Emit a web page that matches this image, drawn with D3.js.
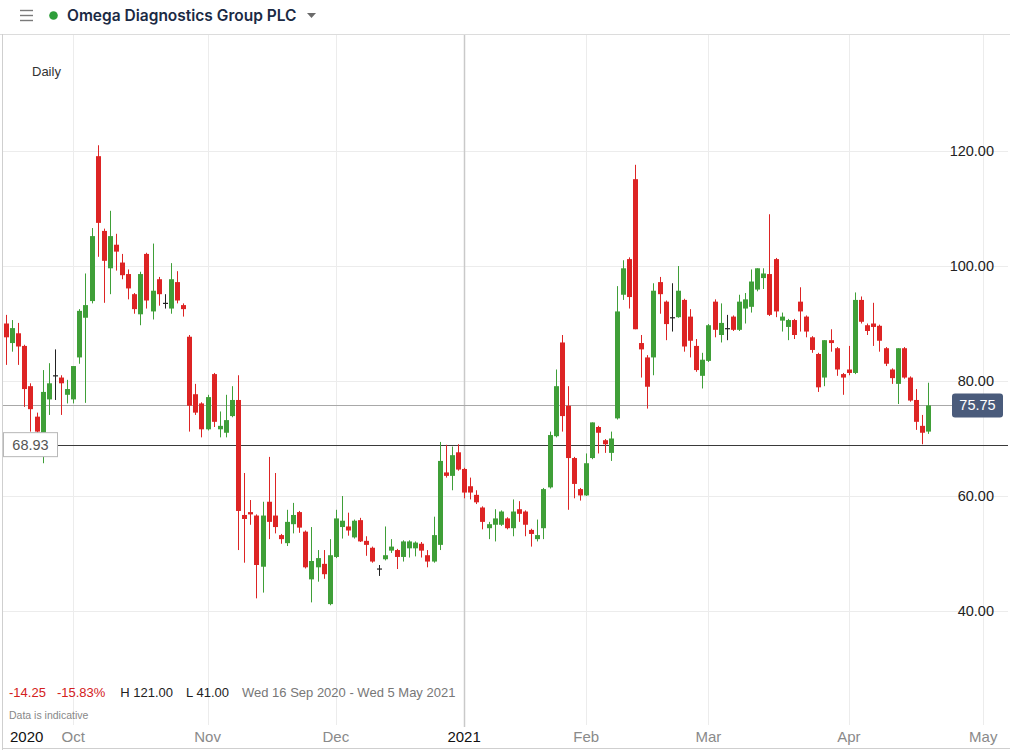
<!DOCTYPE html>
<html>
<head>
<meta charset="utf-8">
<script src="https://cdn.jsdelivr.net/npm/d3@7"></script>
<style>
body { margin: 0; background: #fff; }
svg { display: block; font-family: "Liberation Sans", Arial, sans-serif; }
</style>
</head>
<body>
<svg id="chart" width="1010" height="750"></svg>
<script>
// ---- data ----
var title = "Omega Diagnostics Group PLC";
var firstDay = "2020-09-16";
var lastDay = "2021-05-05";
var holidays = ["2020-12-25", "2020-12-28", "2021-01-01", "2021-04-02", "2021-04-05"];

var opens = [90.0,86.6,88.3,86.1,79.1,73.8,70.9,76.8,81.0,80.6,
  77.6,76.8,84.1,91.0,93.9,119.1,106.1,99.6,103.7,100.6,
  98.6,95.1,91.6,102.1,92.1,97.7,93.6,92.6,97.2,93.2,
  87.7,77.7,76.1,71.6,81.2,71.6,71.0,73.9,76.7,56.7,
  57.2,56.6,47.7,59.0,56.6,53.2,51.8,55.1,57.2,53.8,
  45.5,47.6,48.2,41.2,49.4,54.6,54.7,52.8,55.8,52.2,
  51.0,47.4,49.0,50.5,50.6,49.4,50.9,50.9,51.7,49.7,
  48.6,51.5,64.1,63.5,67.6,64.7,61.7,60.2,58.0,54.4,
  55.0,55.0,56.1,54.4,57.7,57.3,54.1,52.5,54.4,61.5,
  70.4,86.7,75.7,66.6,61.2,60.1,66.6,72.0,69.7,67.5,
  73.5,95.0,101.2,115.1,86.6,84.1,84.1,97.2,93.8,91.1,
  91.1,94.1,91.2,86.1,80.9,83.5,93.8,88.0,89.2,91.2,
  88.9,92.6,92.9,95.9,97.9,98.6,101.2,90.5,89.4,90.6,
  93.8,91.2,87.6,84.7,80.6,87.1,85.7,81.2,82.0,81.4,
  94.1,89.7,90.0,89.6,85.7,82.0,79.5,85.7,80.6,76.7,
  72.2,71.2];
var highs = [91.5,90.6,90.1,86.3,79.6,74.5,81.9,83.1,85.5,81.0,
  80.2,82.6,92.5,98.7,106.6,121.0,106.5,109.6,105.6,102.1,
  99.4,95.3,99.0,102.3,103.9,98.1,95.1,100.5,99.1,93.5,
  88.0,79.5,76.3,77.6,81.4,74.7,77.6,79.1,81.0,64.0,
  59.3,56.8,59.0,66.8,64.0,53.4,57.6,58.8,57.4,54.0,
  54.6,50.6,50.6,52.5,57.6,60.0,57.1,55.9,56.2,53.0,
  51.2,48.0,54.7,52.5,50.8,52.3,52.3,52.1,52.0,50.6,
  56.4,69.4,68.9,68.6,69.0,64.9,63.2,61.0,58.2,55.5,
  57.7,57.5,56.3,59.4,59.1,57.5,54.3,55.9,61.4,71.2,
  82.0,88.0,79.1,66.8,61.4,67.4,72.8,72.2,69.9,71.2,
  96.5,101.0,101.5,117.6,88.0,84.5,97.0,98.1,94.0,97.0,
  100.0,94.3,92.5,87.3,84.9,89.9,94.2,93.5,91.5,91.4,
  95.0,95.3,99.4,99.6,99.6,109.0,101.4,91.9,90.8,90.8,
  96.3,91.4,87.8,84.9,87.1,89.0,85.9,81.4,86.1,95.4,
  94.7,90.0,93.6,89.8,85.9,82.2,85.7,85.9,80.8,78.6,
  74.1,79.7];
var lows = [82.8,85.1,82.8,75.5,71.2,70.3,65.7,74.1,76.7,74.1,
  76.1,76.1,83.0,76.2,93.5,101.6,93.6,95.1,99.2,97.7,
  94.2,91.7,89.7,92.6,90.7,93.1,92.6,91.7,93.5,91.2,
  71.2,74.1,70.2,71.4,72.0,70.2,70.2,73.7,50.6,48.4,
  55.0,42.2,43.2,52.5,53.5,51.7,51.3,53.5,53.6,47.4,
  41.5,45.1,45.6,41.0,49.2,52.6,53.1,52.6,52.0,49.6,
  48.4,46.1,48.8,50.1,47.3,48.6,49.3,49.5,49.3,47.6,
  48.4,50.6,63.2,61.0,64.4,59.6,59.4,58.6,54.2,52.5,
  52.1,54.8,54.2,53.0,55.5,53.0,51.2,52.1,52.5,61.3,
  70.2,71.2,57.6,59.6,59.2,60.0,66.4,67.4,67.5,66.1,
  73.3,94.1,92.6,89.0,80.6,75.2,81.0,91.7,87.1,88.6,
  91.0,85.1,84.1,81.6,78.7,83.3,87.6,86.7,87.1,88.7,
  88.7,90.0,91.9,95.6,96.0,91.3,91.1,88.6,87.1,87.3,
  88.6,87.6,84.9,78.1,79.1,85.1,80.9,77.6,81.0,81.2,
  90.0,88.0,86.1,85.1,82.6,79.5,76.0,80.4,76.4,71.5,
  69.0,70.8];
var closes = [87.6,89.2,86.0,78.6,75.1,71.2,78.1,79.6,81.0,79.6,
  78.6,82.6,92.2,93.2,105.2,107.5,100.9,105.2,102.5,98.4,
  96.1,92.5,98.6,94.0,95.7,95.1,93.6,97.7,94.0,92.5,
  75.7,74.5,71.6,77.2,72.9,72.2,73.2,76.7,57.4,56.0,
  56.8,48.0,56.6,55.5,54.6,52.5,55.5,56.7,54.5,47.6,
  48.7,49.2,46.4,49.7,56.1,55.7,54.0,55.7,52.1,51.5,
  48.6,47.4,49.7,51.2,49.4,52.1,52.1,51.9,50.5,48.6,
  53.2,66.1,63.5,67.1,64.6,60.6,60.6,58.9,55.5,55.1,
  56.1,57.3,54.4,57.3,56.9,55.0,53.4,53.2,61.2,70.6,
  79.1,73.9,66.6,62.1,60.1,65.7,72.8,71.0,69.0,70.0,
  92.1,99.6,94.6,89.0,85.5,79.0,95.7,95.1,89.9,91.1,
  95.7,86.0,87.0,81.9,83.7,89.7,88.9,90.1,89.2,88.9,
  93.8,94.2,97.3,99.6,98.7,91.5,92.1,91.2,90.6,88.0,
  92.1,88.6,85.4,78.9,87.1,86.6,82.0,80.6,81.4,94.1,
  90.3,88.7,89.4,87.0,83.0,80.5,85.7,80.6,76.6,72.9,
  71.0,75.75];

var yTicks = [40, 60, 80, 100, 120];
var refPrice = 68.93;
var lastPrice = 75.75;
var statChange = "-14.25", statPct = "-15.83%", statHigh = "H 121.00", statLow = "L 41.00";
var rangeText = "Wed 16 Sep 2020 - Wed 5 May 2021";

// ---- dates: trading days for the data, calendar days after it ----
var parse = d3.timeParse("%Y-%m-%d"), fmt = d3.timeFormat("%Y-%m-%d");
var dates = [];
var d = parse(firstDay);
while (dates.length < opens.length) {
  var wd = d.getDay();
  if (wd != 0 && wd != 6 && holidays.indexOf(fmt(d)) < 0) dates.push(d);
  d = d3.timeDay.offset(d, 1);
}
d = d3.timeDay.offset(dates[dates.length - 1], 1);
while (d <= parse(lastDay)) { dates.push(d); d = d3.timeDay.offset(d, 1); }

var candles = opens.map(function(o, i) {
  return {i: i, date: dates[i], o: o, h: highs[i], l: lows[i], c: closes[i]};
});

// ---- layout ----
var svg = d3.select("#chart");
var W = 1010, H = 750;
var headerY = 34, plotBottom = 725;

var x = d3.scaleLinear().domain([0, opens.length - 1]).range([6, 928.3]);
var y = d3.scaleLinear().domain([40, 120]).range([611, 151]);

var green = "#3f9f38", red = "#dd2424";

// header
svg.append("rect").attr("width", W).attr("height", H).attr("fill", "#fff");
svg.append("line").attr("x1", 0).attr("x2", W).attr("y1", headerY + 0.5).attr("y2", headerY + 0.5)
  .attr("stroke", "#dcdcdc");
[10, 15, 20].forEach(function(yy) {
  svg.append("line").attr("x1", 20).attr("x2", 33).attr("y1", yy + 0.5).attr("y2", yy + 0.5)
    .attr("stroke", "#7a7a7a").attr("stroke-width", 1.4);
});
svg.append("circle").attr("cx", 53.5).attr("cy", 15.5).attr("r", 4.3).attr("fill", "#2e9e3a");
svg.append("text").attr("x", 67).attr("y", 21).text(title)
  .attr("font-family", "Inter, 'Open Sans', sans-serif").attr("font-weight", 600)
  .attr("font-size", 15.5).attr("fill", "#1b2a44");
svg.append("path").attr("d", "M307,13 L316,13 L311.5,18 Z").attr("fill", "#6b6b6b");

// left border
svg.append("line").attr("x1", 2.5).attr("x2", 2.5).attr("y1", headerY).attr("y2", H)
  .attr("stroke", "#cfcfcf");

// horizontal gridlines
svg.append("g").selectAll("line").data(yTicks).enter().append("line")
  .attr("x1", 3).attr("x2", 1008)
  .attr("y1", function(v) { return Math.round(y(v)) + 0.5; })
  .attr("y2", function(v) { return Math.round(y(v)) + 0.5; })
  .attr("stroke", "#ececec");

// month ticks
var ticks = [];
for (var i = 1; i < dates.length; i++) {
  if (dates[i].getMonth() != dates[i - 1].getMonth()) {
    var isYear = dates[i].getMonth() == 0;
    var label = isYear ? d3.timeFormat("%Y")(dates[i]) : d3.timeFormat("%b")(dates[i]);
    ticks.push({i: i, label: label, year: isYear});
  }
}
svg.append("g").selectAll("line").data(ticks).enter().append("line")
  .attr("x1", function(t) { return Math.round(x(t.i)) + 0.5; })
  .attr("x2", function(t) { return Math.round(x(t.i)) + 0.5; })
  .attr("y1", headerY + 1).attr("y2", function(t) { return t.year ? 727 : plotBottom; })
  .attr("stroke", function(t) { return t.year ? "#c9c9c9" : "#ececec"; })
  .attr("stroke-width", function(t) { return t.year ? 1.5 : 1; });

svg.append("g").selectAll("text").data(ticks).enter().append("text")
  .attr("x", function(t) { return x(t.i); }).attr("y", 742)
  .attr("text-anchor", "middle").attr("font-size", 15)
  .attr("fill", function(t) { return t.year ? "#111" : "#8a8a8a"; })
  .text(function(t) { return t.label; });
svg.append("text").attr("x", 10).attr("y", 742).attr("font-size", 15).attr("fill", "#111")
  .text(d3.timeFormat("%Y")(dates[0]));
svg.append("line").attr("x1", 3).attr("x2", W).attr("y1", 748.5).attr("y2", 748.5)
  .attr("stroke", "#cfcfcf");

// y axis labels
svg.append("g").selectAll("text").data(yTicks).enter().append("text")
  .attr("x", 994).attr("y", function(v) { return y(v) + 5; })
  .attr("text-anchor", "end").attr("font-size", 14.5).attr("fill", "#222")
  .text(function(v) { return d3.format(".2f")(v); });

// price lines
svg.append("line").attr("x1", 3).attr("x2", 952)
  .attr("y1", Math.round(y(lastPrice)) + 0.5).attr("y2", Math.round(y(lastPrice)) + 0.5)
  .attr("stroke", "#a8a8a8");
svg.append("line").attr("x1", 58).attr("x2", 1008)
  .attr("y1", Math.round(y(refPrice)) + 0.5).attr("y2", Math.round(y(refPrice)) + 0.5)
  .attr("stroke", "#3a3a3a");

// candles
var g = svg.append("g");
var cg = g.selectAll("g.candle").data(candles).enter().append("g").attr("class", "candle");
function col(c) { return c.c > c.o ? green : c.c < c.o ? red : "#222"; }
cg.append("line")
  .attr("x1", function(c) { return Math.round(x(c.i)) + 0.5; })
  .attr("x2", function(c) { return Math.round(x(c.i)) + 0.5; })
  .attr("y1", function(c) { return y(c.h); })
  .attr("y2", function(c) { return y(c.l); })
  .attr("stroke", col).attr("stroke-width", 1);
cg.append("rect")
  .attr("x", function(c) { return Math.round(x(c.i)) - 2; })
  .attr("width", 5)
  .attr("y", function(c) { return y(Math.max(c.o, c.c)); })
  .attr("height", function(c) { return Math.max(1.2, Math.abs(y(c.o) - y(c.c))); })
  .attr("fill", col);

// last price tag
svg.append("rect").attr("x", 952).attr("y", y(lastPrice) - 12).attr("width", 51).attr("height", 24)
  .attr("rx", 3).attr("fill", "#4a5b7b");
svg.append("text").attr("x", 977.5).attr("y", y(lastPrice) + 5).attr("text-anchor", "middle")
  .attr("font-size", 14.5).attr("fill", "#fff").text(d3.format(".2f")(lastPrice));

// reference tag
svg.append("rect").attr("x", 3.5).attr("y", y(refPrice) - 12).attr("width", 54).attr("height", 24)
  .attr("fill", "#fff").attr("stroke", "#b8b8b8");
svg.append("text").attr("x", 30.5).attr("y", y(refPrice) + 5).attr("text-anchor", "middle")
  .attr("font-size", 14.5).attr("fill", "#555").text(d3.format(".2f")(refPrice));

// labels
svg.append("text").attr("x", 32).attr("y", 76).attr("font-size", 13).attr("fill", "#333").text("Daily");

var stats = svg.append("text").attr("x", 9).attr("y", 697).attr("font-size", 13);
stats.append("tspan").attr("fill", "#d32020").text(statChange);
stats.append("tspan").attr("dx", 11).attr("fill", "#d32020").text(statPct);
stats.append("tspan").attr("dx", 15).attr("fill", "#222").text(statHigh);
stats.append("tspan").attr("dx", 13).attr("fill", "#222").text(statLow);
stats.append("tspan").attr("dx", 13).attr("fill", "#777").text(rangeText);
svg.append("text").attr("x", 9).attr("y", 719).attr("font-size", 10.5).attr("fill", "#888")
  .text("Data is indicative");
</script>
</body>
</html>
